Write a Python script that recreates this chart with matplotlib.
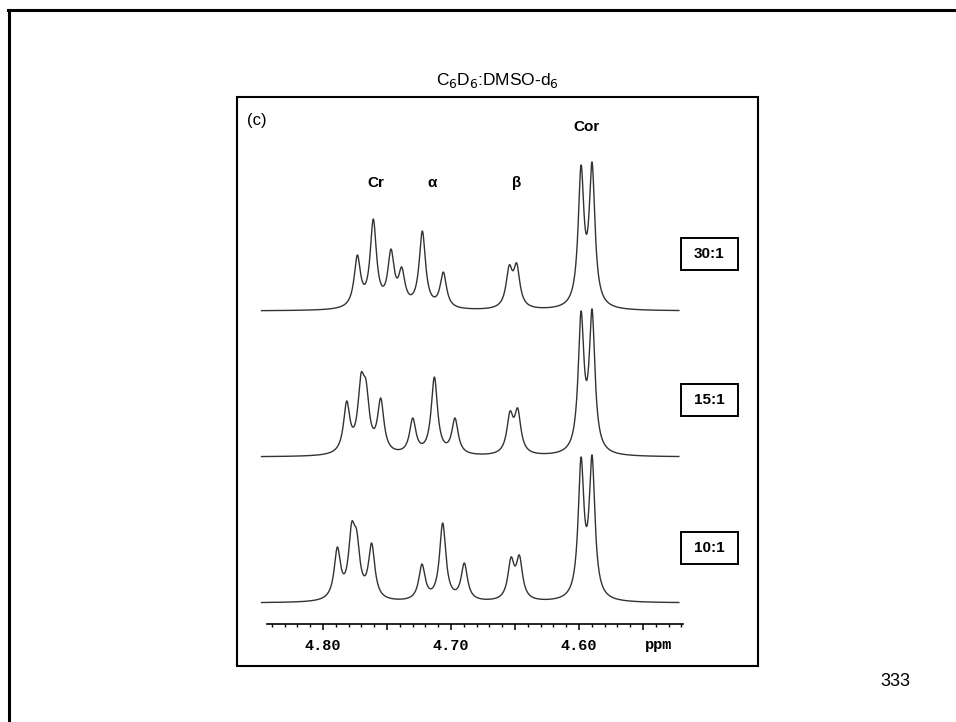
import numpy as np
import matplotlib

matplotlib.use("Agg")
import matplotlib.pyplot as plt
from matplotlib.lines import Line2D
from matplotlib.patches import Rectangle

W, H = 956, 722

# stacked 1H spectra, peak positions (ppm) and apparent heights
RATIOS = ["30:1", "15:1", "10:1"]

PEAKS_30 = [4.7732, 4.7607, 4.7469, 4.7385, 4.7224, 4.7060, 4.6545, 4.6487, 4.5984, 4.5898]
HEIGHTS_30 = [56, 92, 62, 44, 80, 39, 46, 48, 146, 149]

PEAKS_15 = [4.7815, 4.7703, 4.7664, 4.7549, 4.7299, 4.7130, 4.6969, 4.6539, 4.6479, 4.5984, 4.5898]
HEIGHTS_15 = [56, 84, 77, 59, 39, 80, 39, 46, 49, 146, 148]

PEAKS_10 = [4.7888, 4.7776, 4.7737, 4.7620, 4.7227, 4.7065, 4.6896, 4.6531, 4.6466, 4.5984, 4.5898]
HEIGHTS_10 = [56, 81, 73, 60, 39, 80, 40, 46, 48, 146, 148]

ASSIGN_LABELS = ["Cr", "α", "β", "Cor"]
ASSIGN_PPM = [4.7586, 4.7148, 4.6484, 4.5938]

HWHM = 0.0030          # Lorentzian half width, ppm
HWHM_COR = 0.0027      # the two tall Cor lines are a bit sharper
BASELINES = [313, 167, 21]   # vertical offsets of the three traces
PPM_LEFT, PPM_RIGHT = 4.8508, 4.5164


def px(x, y):
    """pixel (from top-left) -> figure fraction"""
    return x / W, 1 - y / H


def lorentz(x, x0, g):
    return 1.0 / (1.0 + ((x - x0) / g) ** 2)


def spectrum(x, peaks, heights):
    p = np.asarray(peaks, float)
    h = np.asarray(heights, float)
    g = np.where(p < 4.62, HWHM_COR, HWHM)
    m = lorentz(p[:, None], p[None, :], g[None, :])
    amps = np.linalg.solve(m, h)
    return (amps[None, :] * lorentz(x[:, None], p[None, :], g[None, :])).sum(axis=1)


fig = plt.figure(figsize=(W / 100, H / 100), dpi=100)

# slide frame (top and left edges only)
fig.add_artist(Line2D([8 / W, 1], [1 - 10 / H] * 2, color="black", lw=2.2,
                      solid_capstyle="projecting", transform=fig.transFigure))
fig.add_artist(Line2D([9 / W] * 2, [0, 1 - 10 / H], color="black", lw=2.2,
                      solid_capstyle="projecting", transform=fig.transFigure))

# panel box
x0, y0 = px(237, 666)
fig.add_artist(Rectangle((x0, y0), 521 / W, 569 / H, fill=False, lw=1.5,
                         edgecolor="black", transform=fig.transFigure))

fig.text(*px(497, 80), "C$_6$D$_6$:DMSO-d$_6$", ha="center", va="center",
         fontsize=12.5, family="Liberation Sans")
fig.text(*px(247, 120), "(c)", ha="left", va="center", fontsize=12, family="Liberation Sans")
fig.text(*px(895, 682), "333", ha="center", va="center", fontsize=13, family="Liberation Sans")

ax = fig.add_axes([258 / W, 1 - 624 / H, (686 - 258) / W, (624 - 97) / H])
ax.set_xlim(PPM_LEFT, PPM_RIGHT)
ax.set_ylim(0, 527)
ax.patch.set_visible(False)
for side in ("left", "right", "top"):
    ax.spines[side].set_visible(False)
ax.spines["bottom"].set_bounds(4.844, 4.519)
ax.spines["bottom"].set_linewidth(1.2)
ax.set_yticks([])

major = [4.80, 4.75, 4.70, 4.65, 4.60, 4.55]
ax.set_xticks(major, ["4.80", "", "4.70", "", "4.60", ""])
ax.set_xticks(np.arange(4.52, 4.845, 0.01), minor=True)
ax.tick_params(axis="x", which="major", direction="out", length=4, width=1.1, pad=7)
ax.tick_params(axis="x", which="minor", direction="out", length=1.8, width=1.0)
for lab in ax.get_xticklabels():
    lab.set_family("Liberation Mono")
    lab.set_fontweight("bold")
    lab.set_fontsize(11)
ax.text(4.538, -21, "ppm", ha="center", va="center", fontsize=11,
        family="Liberation Mono", fontweight="bold", clip_on=False)

x = np.linspace(4.848, 4.522, 3000)
for peaks, heights, base in zip([PEAKS_30, PEAKS_15, PEAKS_10],
                                [HEIGHTS_30, HEIGHTS_15, HEIGHTS_10], BASELINES):
    ax.plot(x, base + spectrum(x, peaks, heights), color="#333333", lw=1.0)

label_y = [441, 441, 441, 497]
for lab, ppm, ly in zip(ASSIGN_LABELS, ASSIGN_PPM, label_y):
    ax.text(ppm, ly, lab, ha="center", va="center", fontsize=11, fontweight="bold",
            family="Liberation Sans", clip_on=False)

# ratio boxes
for ratio, cy in zip(RATIOS, [254, 400, 548]):
    bx, by = px(681, cy + 16)
    fig.add_artist(Rectangle((bx, by), 57 / W, 32 / H, fill=False, lw=1.4,
                             edgecolor="black", transform=fig.transFigure))
    fig.text(*px(709.5, cy), ratio, ha="center", va="center", fontsize=11,
             fontweight="bold", family="Liberation Sans")

fig.savefig("out.png", dpi=100)
